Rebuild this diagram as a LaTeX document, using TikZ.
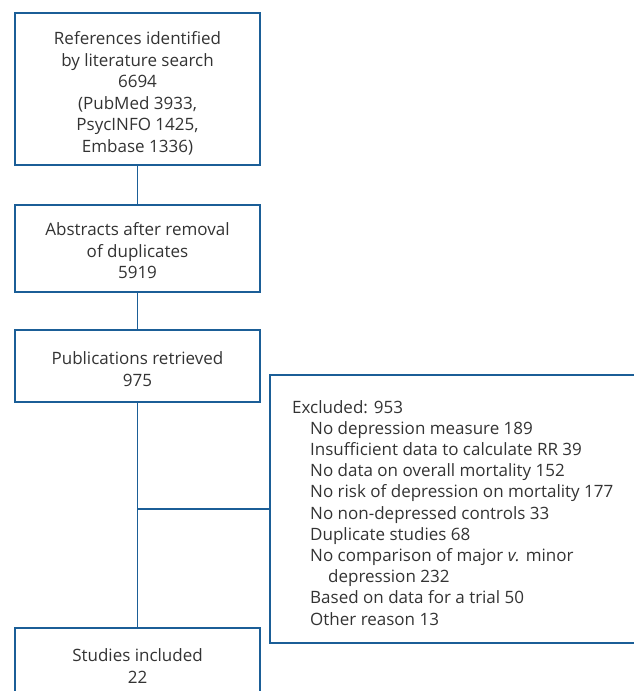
\documentclass[tikz,border=0pt]{standalone}
\usepackage{fontspec}
\setmainfont{Open Sans}
\definecolor{bl}{HTML}{1B5E97}
\definecolor{tx}{HTML}{333333}
\begin{document}
\begin{tikzpicture}[x=1pt,y=-1pt,
  box/.style={draw=bl, line width=1.6pt, inner sep=0pt},
  lbl/.style={text=tx, font=\fontsize{17}{21.5}\selectfont, align=center, inner sep=0pt},
  exl/.style={text=tx, font=\fontsize{17}{21.2}\selectfont, align=left, inner sep=0pt},
  link/.style={draw=bl, line width=1.6pt}]
\useasboundingbox (0,0) rectangle (633,691);
\node[box, minimum width=245pt, minimum height=152pt] (b1) at (137.5,89) {};
\node[box, minimum width=245pt, minimum height=87pt] (b2) at (137.5,248.5) {};
\node[box, minimum width=245pt, minimum height=72pt] (b3) at (137.5,366) {};
\node[box, minimum width=390pt, minimum height=268pt] (ex) at (465,509) {};
\node[box, minimum width=245pt, minimum height=92pt] (b4) at (137.5,674) {};
\node[lbl] (t1) at (137.5,93.5) {References identified\\by literature search\\6694\\(PubMed 3933,\\PsycINFO 1425,\\Embase 1336)};
\node[lbl] (t2) at (137.5,251) {Abstracts after removal\\of duplicates\\5919};
\node[lbl] (t3) at (137.5,369) {Publications retrieved\\975};
\node[lbl] (t4) at (137.5,666) {Studies included\\22};
\node[exl, anchor=north west] (t5) at (292,400) {Excluded: 953\\
\hspace*{18pt}No depression measure 189\\
\hspace*{18pt}Insufficient data to calculate RR 39\\
\hspace*{18pt}No data on overall mortality 152\\
\hspace*{18pt}No risk of depression on mortality 177\\
\hspace*{18pt}No non-depressed controls 33\\
\hspace*{18pt}Duplicate studies 68\\
\hspace*{18pt}No comparison of major \emph{v.} minor\\
\hspace*{36pt}depression 232\\
\hspace*{18pt}Based on data for a trial 50\\
\hspace*{18pt}Other reason 13};
\coordinate (j) at (b3.south |- ex.west);
\draw[link] (b1.south) -- (b2.north);
\draw[link] (b2.south) -- (b3.north);
\draw[link] (b3.south) -- (b4.north);
\draw[link] (j) -- (ex.west);
\end{tikzpicture}
\end{document}
